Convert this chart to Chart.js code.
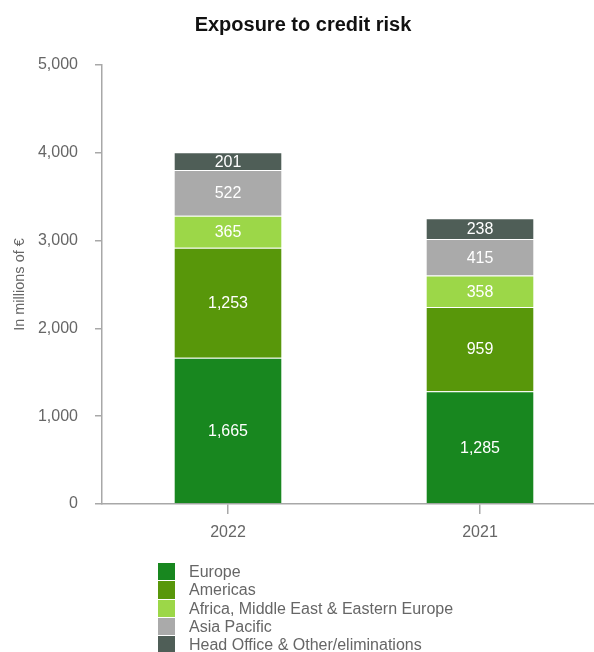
<!DOCTYPE html>
<html>
<head>
<meta charset="utf-8">
<script src="https://cdn.jsdelivr.net/npm/chart.js@4/dist/chart.umd.min.js"></script>
<style>
  html, body { margin: 0; padding: 0; background: #fff; overflow: hidden; }
  #wrap { position: relative; width: 594px; height: 652px; overflow: hidden; }
  #c { position: absolute; left: 0; top: 0; }
  #legend { position: absolute; left: 158px; top: 563px; font-family: "Liberation Sans", Arial, sans-serif; font-size: 16px; color: #666; }
  .item { position: relative; height: 18.3px; line-height: 18px; white-space: nowrap; }
  .box { position: absolute; left: 0; top: 0; width: 17px; height: 17.3px; }
  .lbl { position: absolute; left: 31px; top: 0; }
</style>
</head>
<body>
<div id="wrap">
  <canvas id="c" width="606" height="652"></canvas>
  <div id="legend"></div>
</div>
<script>
const categories = ["2022", "2021"];
const seriesNames = ["Europe", "Americas", "Africa, Middle East & Eastern Europe", "Asia Pacific", "Head Office & Other/eliminations"];
const europe = [1665, 1285];
const americas = [1253, 959];
const africaMEEE = [365, 358];
const asiaPacific = [522, 415];
const headOffice = [201, 238];
const yTicks = [0, 1000, 2000, 3000, 4000, 5000];
const colors = ["#18871f", "#58970a", "#9cd748", "#aaaaaa", "#4f5e57"];

const seriesValues = [europe, americas, africaMEEE, asiaPacific, headOffice];
const FONT = '"Liberation Sans", Arial, sans-serif';
const AXIS = "#a8a8a8";

const datasets = seriesNames.map((name, i) => ({
  label: name,
  data: seriesValues[i],
  backgroundColor: colors[i],
  borderColor: "rgba(255,255,255,0.18)",
  borderWidth: { top: 1, left: 0, right: 0, bottom: 0 },
  borderSkipped: false,
  categoryPercentage: 1.0,
  barPercentage: 0.425
}));

const valueLabels = {
  id: "valueLabels",
  afterDatasetsDraw(chart) {
    const ctx = chart.ctx;
    ctx.save();
    ctx.font = "16px " + FONT;
    ctx.fillStyle = "#ffffff";
    ctx.textAlign = "center";
    ctx.textBaseline = "middle";
    chart.data.datasets.forEach((ds, di) => {
      const meta = chart.getDatasetMeta(di);
      meta.data.forEach((el, j) => {
        const v = ds.data[j];
        ctx.fillText(v.toLocaleString("en-US"), el.x, (el.y + el.base) / 2 + 1);
      });
    });
    ctx.restore();
  }
};

new Chart(document.getElementById("c"), {
  type: "bar",
  data: { labels: categories, datasets },
  plugins: [valueLabels],
  options: {
    responsive: false,
    animation: false,
    layout: { padding: { left: 0, right: 0, top: 0, bottom: 104 } },
    plugins: {
      legend: { display: false },
      tooltip: { enabled: false },
      title: {
        display: true,
        text: "Exposure to credit risk",
        color: "#111",
        font: { family: FONT, size: 20, weight: "bold", lineHeight: 1.2 },
        padding: { top: 13, bottom: 28 }
      }
    },
    scales: {
      x: {
        stacked: true,
        grid: { display: true, drawOnChartArea: false, offset: false, tickLength: 10, color: AXIS, lineWidth: 1.5 },
        border: { display: true, color: AXIS, width: 1.5 },
        ticks: { color: "#666", font: { family: FONT, size: 16 }, padding: 9 },
        afterFit(s) { s.height = 44; }
      },
      y: {
        stacked: true,
        min: 0, max: 5000,
        afterBuildTicks(s) { s.ticks = yTicks.map(v => ({ value: v })); },
        grid: { display: true, drawOnChartArea: false, tickLength: 7, color: AXIS, lineWidth: 1.5 },
        border: { display: true, color: AXIS, width: 1.5 },
        ticks: {
          color: "#666",
          font: { family: FONT, size: 16 },
          padding: 17,
          callback: v => v.toLocaleString("en-US")
        },
        title: {
          display: true,
          text: "In millions of €",
          color: "#666",
          font: { family: FONT, size: 14.5, lineHeight: 1.2 },
          padding: { top: 11, bottom: 0 }
        },
        afterFit(s) { s.width = 102; }
      }
    }
  }
});

const legend = document.getElementById("legend");
seriesNames.forEach((name, i) => {
  const item = document.createElement("div");
  item.className = "item";
  const box = document.createElement("span");
  box.className = "box";
  box.style.background = colors[i];
  const lbl = document.createElement("span");
  lbl.className = "lbl";
  lbl.textContent = name;
  item.appendChild(box);
  item.appendChild(lbl);
  legend.appendChild(item);
});
</script>
</body>
</html>
